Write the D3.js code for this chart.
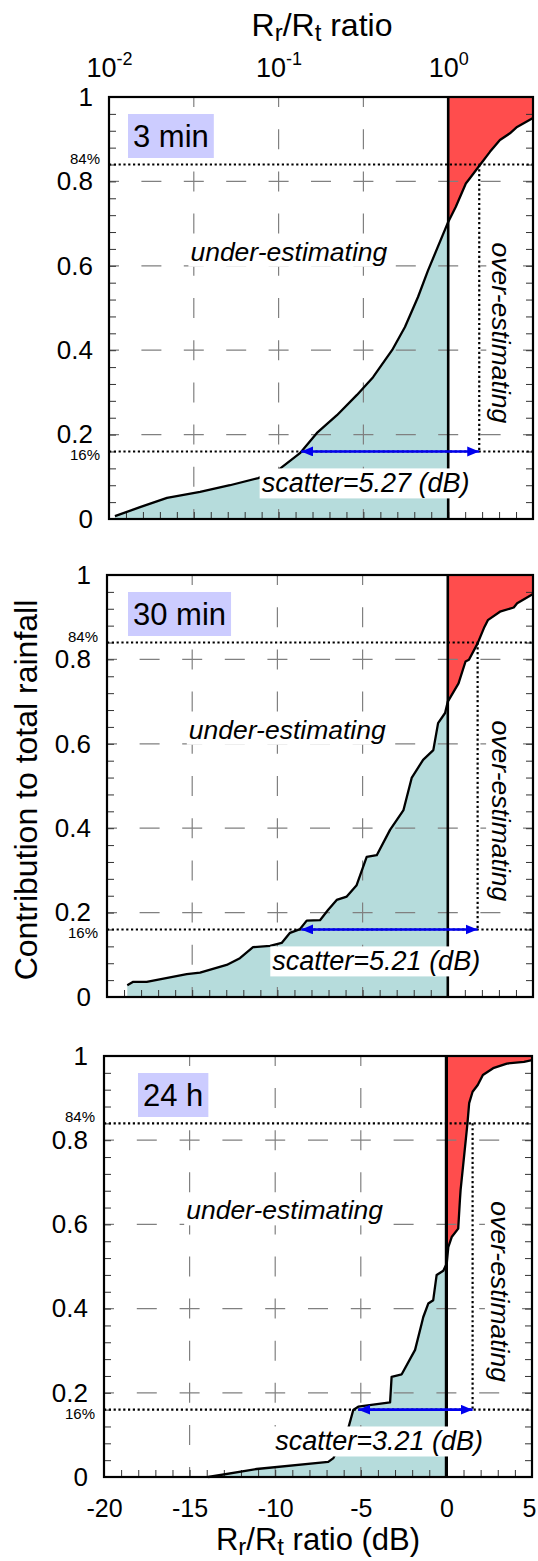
<!DOCTYPE html>
<html>
<head>
<meta charset="utf-8">
<script src="https://cdn.jsdelivr.net/npm/d3@7"></script>
<style>
  body { margin: 0; background: #fff; }
  svg { display: block; font-family: "Liberation Sans", Arial, sans-serif; }
</style>
</head>
<body>
<div id="chart"></div>
<script>
// axis values
var dbTicks = [-20, -15, -10, -5, 0, 5];
var fracTicks = [0, 0.2, 0.4, 0.6, 0.8, 1];
var ratioTicks = [0.01, 0.1, 1];
var ratioExponents = ["-2", "-1", "0"];

// panel data
var panelNames = ["3 min", "30 min", "24 h"];
var scatterDb = [5.27, 5.21, 3.21];
var db16 = [-8.67, -8.6, -5.15];
var db84 = [1.83, 1.75, 1.53];

var db3min = [-19.65, -18.17, -16.58, -14.63, -12.87, -11.2, -10.03, -8.74, -7.74, -6.56, -5.38, -4.43, -3.31, -2.55, -1.78, -1.2, 0, 0.45, 1.04, 1.29, 1.87, 2.46, 3.05, 3.64, 4.06, 5.0];
var frac3min = [0.007, 0.028, 0.05, 0.064, 0.08, 0.097, 0.116, 0.156, 0.204, 0.246, 0.294, 0.336, 0.40, 0.455, 0.526, 0.588, 0.704, 0.74, 0.795, 0.808, 0.839, 0.87, 0.898, 0.914, 0.929, 0.95];

var db30min = [-18.81, -18.46, -17.67, -15.32, -14.54, -12.98, -12.2, -11.43, -10.43, -9.75, -9.26, -8.67, -8.28, -7.5, -7.03, -6.52, -5.93, -5.35, -4.76, -4.17, -3.39, -2.6, -2.12, -1.45, -0.85, -0.57, -0.16, 0, 0.63, 1.04, 1.24, 1.75, 2.15, 2.35, 3.06, 3.87, 4.07, 5.0];
var frac30min = [0.028, 0.036, 0.036, 0.054, 0.058, 0.076, 0.092, 0.118, 0.121, 0.128, 0.152, 0.161, 0.181, 0.182, 0.206, 0.23, 0.238, 0.265, 0.332, 0.336, 0.396, 0.443, 0.519, 0.562, 0.585, 0.649, 0.673, 0.70, 0.743, 0.795, 0.799, 0.838, 0.877, 0.893, 0.913, 0.923, 0.933, 0.955];

var db24h = [-13.91, -11.08, -6.9, -6.6, -5.73, -5.44, -5.15, -3.29, -3.2, -2.61, -1.83, -1.44, -1.35, -1.06, -0.77, -0.57, -0.18, 0.02, 0.11, 0.31, 0.69, 0.79, 0.83, 1.13, 1.23, 1.33, 1.53, 1.83, 2.13, 2.73, 3.53, 4.53, 5.0];
var frac24h = [0, 0.019, 0.036, 0.045, 0.116, 0.159, 0.167, 0.177, 0.238, 0.244, 0.302, 0.365, 0.38, 0.412, 0.42, 0.48, 0.49, 0.507, 0.546, 0.57, 0.59, 0.658, 0.682, 0.80, 0.84, 0.888, 0.915, 0.931, 0.955, 0.971, 0.982, 0.986, 0.99];

var curveDb = [db3min, db30min, db24h];
var curveFrac = [frac3min, frac30min, frac24h];

// layout of the three panels
var panels = [
  {left: 109, right: 533, top: 97,   bottom: 519,  labelDx: 19, scatterAt: -11.0},
  {left: 107, right: 533, top: 575,  bottom: 997,  labelDx: 21, scatterAt: -10.3},
  {left: 104, right: 532, top: 1056, bottom: 1477, labelDx: 34, scatterAt: -10.0}
];

var W = 538, H = 1561;
var svg = d3.select("#chart").append("svg")
    .attr("width", W)
    .attr("height", H);

var defs = svg.append("defs");
defs.append("marker")
    .attr("id", "arrowHead")
    .attr("markerUnits", "userSpaceOnUse")
    .attr("markerWidth", 13).attr("markerHeight", 11)
    .attr("refX", 12).attr("refY", 5)
    .attr("orient", "auto-start-reverse")
  .append("path")
    .attr("d", "M0,0 L12,5 L0,10 Z")
    .attr("fill", "#0000ee");

// put a filled box behind a text element
function boxBehind(g, textSel, padX, padY, color) {
  var b = textSel.node().getBBox();
  g.insert("rect", function() { return textSel.node(); })
    .attr("x", b.x - padX).attr("y", b.y - padY)
    .attr("width", b.width + 2 * padX).attr("height", b.height + 2 * padY)
    .attr("fill", color);
}

panels.forEach(function(p, i) {
  var x = d3.scaleLinear().domain([-20, 5]).range([p.left, p.right]);
  var y = d3.scaleLinear().domain([0, 1]).range([p.bottom, p.top]);
  var g = svg.append("g");

  var pts = curveDb[i].map(function(d, j) { return {db: d, f: curveFrac[i][j]}; });

  // clip regions either side of 0 dB
  defs.append("clipPath").attr("id", "under" + i)
    .append("rect")
      .attr("x", x(-20)).attr("y", y(1))
      .attr("width", x(0) - x(-20)).attr("height", y(0) - y(1));
  defs.append("clipPath").attr("id", "over" + i)
    .append("rect")
      .attr("x", x(0)).attr("y", y(1))
      .attr("width", x(5) - x(0)).attr("height", y(0) - y(1));

  g.append("path")
    .datum(pts)
    .attr("clip-path", "url(#under" + i + ")")
    .attr("fill", "#b6dcdc")
    .attr("d", d3.area().x(function(d) { return x(d.db); }).y0(y(0)).y1(function(d) { return y(d.f); }));

  g.append("path")
    .datum(pts)
    .attr("clip-path", "url(#over" + i + ")")
    .attr("fill", "#ff4d4d")
    .attr("d", d3.area().x(function(d) { return x(d.db); }).y0(y(1)).y1(function(d) { return y(d.f); }));

  // dashed grid
  var periodX = (x(5) - x(-20)) / 10, periodY = (y(0) - y(1)) / 10;
  g.selectAll(".vgrid")
    .data([-15, -10, -5])
    .enter().append("line")
      .attr("x1", function(d) { return x(d); }).attr("x2", function(d) { return x(d); })
      .attr("y1", y(0)).attr("y2", y(1))
      .attr("stroke", "#808080").attr("stroke-width", 1.2)
      .attr("stroke-dasharray", "20," + (periodY - 20))
      .attr("stroke-dashoffset", 10);
  g.selectAll(".hgrid")
    .data([0.2, 0.4, 0.6, 0.8])
    .enter().append("line")
      .attr("x1", x(-20)).attr("x2", x(5))
      .attr("y1", function(d) { return y(d); }).attr("y2", function(d) { return y(d); })
      .attr("stroke", "#808080").attr("stroke-width", 1.2)
      .attr("stroke-dasharray", "20," + (periodX - 20))
      .attr("stroke-dashoffset", 10);

  // inward minor ticks
  var minorY = d3.range(0, 25).map(function(k) { return k * 0.04; });
  var minorX = d3.range(-20, 6, 1);
  g.append("g").attr("class", "ticks").attr("transform", "translate(" + p.left + ",0)")
    .call(d3.axisLeft(y).tickValues(minorY).tickSize(-7).tickFormat(""));
  g.append("g").attr("class", "ticks").attr("transform", "translate(" + p.right + ",0)")
    .call(d3.axisRight(y).tickValues(minorY).tickSize(-7).tickFormat(""));
  g.append("g").attr("class", "ticks").attr("transform", "translate(0," + p.bottom + ")")
    .call(d3.axisBottom(x).tickValues(minorX).tickSize(-7).tickFormat(""));
  g.selectAll(".ticks .domain").remove();
  g.selectAll(".ticks line").attr("stroke", "#333").attr("stroke-width", 1);

  // value labels on the left
  var yAxis = g.append("g").attr("transform", "translate(" + p.left + ",0)")
    .call(d3.axisLeft(y).tickValues(fracTicks).tickSize(0).tickPadding(16).tickFormat(function(d) { return String(d); }));
  yAxis.select(".domain").remove();
  yAxis.selectAll("text").attr("font-size", 26).attr("fill", "#000")
    .style("font-family", "'Liberation Sans', Arial, sans-serif");

  // 16% and 84% dotted lines
  [0.84, 0.16].forEach(function(v) {
    g.append("line")
      .attr("x1", x(-20)).attr("x2", x(5))
      .attr("y1", y(v)).attr("y2", y(v))
      .attr("stroke", "#000").attr("stroke-width", 2.2)
      .attr("stroke-dasharray", "2.2,2.6");
    g.append("text")
      .attr("x", p.left - 9).attr("y", v > 0.5 ? y(v) - 1 : y(v) + 9)
      .attr("text-anchor", "end")
      .attr("font-size", 15)
      .text(Math.round(v * 100) + "%");
  });
  g.append("line")
    .attr("x1", x(db84[i])).attr("x2", x(db84[i]))
    .attr("y1", y(0.84)).attr("y2", y(0.16))
    .attr("stroke", "#000").attr("stroke-width", 2.2)
    .attr("stroke-dasharray", "2.2,2.6");

  // 0 dB line
  g.append("line")
    .attr("x1", x(0)).attr("x2", x(0))
    .attr("y1", y(0)).attr("y2", y(1))
    .attr("stroke", "#000").attr("stroke-width", i == 2 ? 3.2 : 2.6);

  // the curve
  g.append("path")
    .datum(pts)
    .attr("fill", "none")
    .attr("stroke", "#000")
    .attr("stroke-width", 2.3)
    .attr("stroke-linejoin", "round")
    .attr("d", d3.line().x(function(d) { return x(d.db); }).y(function(d) { return y(d.f); }));

  // labels with white boxes
  var under = g.append("text")
    .attr("x", x(-15.2)).attr("y", y(0.612))
    .attr("font-size", 26.5).attr("font-style", "italic")
    .text("under-estimating");
  boxBehind(g, under, 2, 0, "#fff");

  var over = g.append("text")
    .attr("transform", "translate(" + x(2.6) + "," + y(0.655) + ") rotate(90)")
    .attr("font-size", 26.5).attr("font-style", "italic")
    .text("over-estimating");
  var ob = over.node().getBBox();
  g.insert("rect", function() { return over.node(); })
    .attr("transform", "translate(" + x(2.6) + "," + y(0.655) + ") rotate(90)")
    .attr("x", ob.x - 2).attr("y", ob.y)
    .attr("width", ob.width + 4).attr("height", ob.height)
    .attr("fill", "#fff");

  var scat = g.append("text")
    .attr("x", x(p.scatterAt)).attr("y", y(0.063))
    .attr("font-size", 27).attr("font-style", "italic")
    .text("scatter=" + scatterDb[i].toFixed(2) + " (dB)");
  boxBehind(g, scat, 2, 0, "#fff");

  // scatter arrow
  g.append("line")
    .attr("x1", x(db16[i])).attr("x2", x(db84[i]))
    .attr("y1", y(0.16)).attr("y2", y(0.16))
    .attr("stroke", "#0000ee").attr("stroke-width", 2.6)
    .attr("marker-start", "url(#arrowHead)")
    .attr("marker-end", "url(#arrowHead)");

  // panel name
  var name = g.append("text")
    .attr("x", p.left + p.labelDx + 5).attr("y", p.top + 50)
    .attr("font-size", 31)
    .text(panelNames[i]);
  var nb = name.node().getBBox();
  g.insert("rect", function() { return name.node(); })
    .attr("x", p.left + p.labelDx).attr("y", p.top + 17)
    .attr("width", nb.width + 10).attr("height", 44)
    .attr("fill", "#ccccff");

  // frame
  g.append("rect")
    .attr("x", p.left).attr("y", p.top)
    .attr("width", p.right - p.left).attr("height", p.bottom - p.top)
    .attr("fill", "none").attr("stroke", "#000").attr("stroke-width", 2.2);

  // top ratio axis on the first panel
  if (i == 0) {
    var xr = d3.scaleLog().domain([0.01, Math.pow(10, 0.5)]).range([p.left, p.right]);
    var topAxis = g.append("g").attr("transform", "translate(0," + p.top + ")")
      .call(d3.axisTop(xr).tickValues(ratioTicks).tickSize(0).tickPadding(20));
    topAxis.select(".domain").remove();
    topAxis.selectAll("text")
      .attr("font-size", 27).attr("fill", "#000")
      .style("font-family", "'Liberation Sans', Arial, sans-serif")
      .each(function(d, k) {
        var t = d3.select(this);
        t.text("10");
        t.append("tspan").attr("dy", -12).attr("font-size", 18).text(ratioExponents[k]);
      });
  }

  // dB axis on the last panel
  if (i == 2) {
    var xAxis = g.append("g").attr("transform", "translate(0," + p.bottom + ")")
      .call(d3.axisBottom(x).tickValues(dbTicks).tickSize(0).tickPadding(22)
        .tickFormat(function(d) { return String(d); }));
    xAxis.select(".domain").remove();
    xAxis.selectAll("text").attr("font-size", 25).attr("fill", "#000")
      .style("font-family", "'Liberation Sans', Arial, sans-serif");
    // keep the last label inside the page
    xAxis.selectAll(".tick").filter(function(d) { return d == 5; })
      .select("text").attr("dx", -3);
  }
});

// titles with sub scripts
function ratioTitle(sel, tail) {
  sel.append("tspan").text("R");
  sel.append("tspan").attr("dy", 5).attr("font-size", 24).text("r");
  sel.append("tspan").attr("dy", -5).text("/R");
  sel.append("tspan").attr("dy", 5).attr("font-size", 24).text("t");
  sel.append("tspan").attr("dy", -5).text(tail);
}
ratioTitle(svg.append("text").attr("x", 322).attr("y", 36)
  .attr("text-anchor", "middle").attr("font-size", 32), " ratio");
ratioTitle(svg.append("text").attr("x", 318).attr("y", 1550)
  .attr("text-anchor", "middle").attr("font-size", 31), " ratio (dB)");

svg.append("text")
  .attr("transform", "translate(37,790) rotate(-90)")
  .attr("text-anchor", "middle")
  .attr("font-size", 32)
  .text("Contribution to total rainfall");
</script>
</body>
</html>
